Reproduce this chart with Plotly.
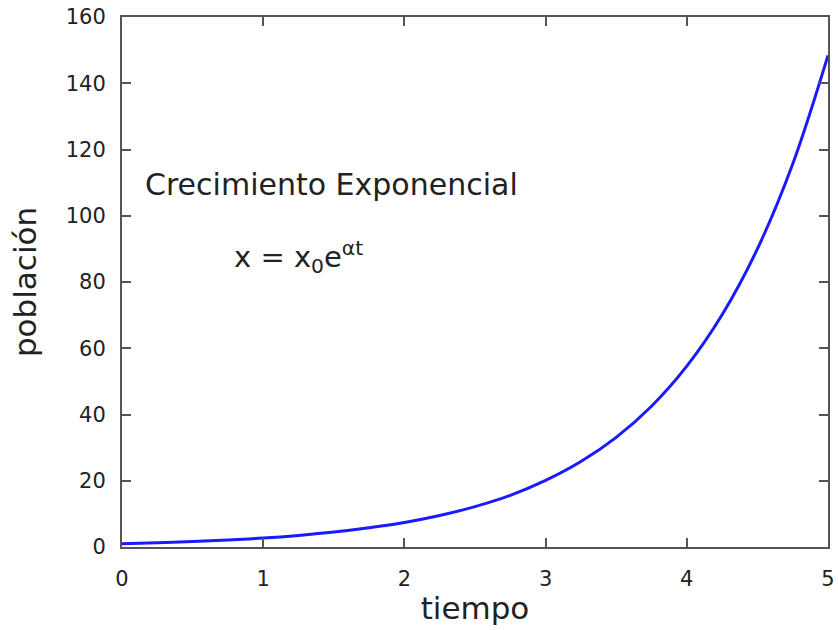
import plotly.graph_objects as go

tiempo = [0.0, 0.25, 0.5, 0.75, 1.0, 1.25, 1.5, 1.75, 2.0, 2.25, 2.5, 2.75, 3.0,
          3.25, 3.5, 3.75, 4.0, 4.25, 4.5, 4.75, 5.0]
poblacion = [1.0, 1.3, 1.65, 2.1, 2.7, 3.5, 4.5, 5.8, 7.4, 9.5, 12.2, 15.6, 20.1,
             25.8, 33.1, 42.5, 54.6, 70.1, 90.0, 115.6, 148.4]
x_ticks = [0, 1, 2, 3, 4, 5]
y_ticks = [0, 20, 40, 60, 80, 100, 120, 140, 160]

FONT = "DejaVu Sans"
TXT = "#222222"
FRAME = "#555555"

fig = go.Figure()
fig.add_trace(go.Scatter(x=tiempo, y=poblacion, mode="lines",
                         line=dict(color="#1a1aff", width=3, shape="spline"),
                         showlegend=False, cliponaxis=True))

axis_common = dict(showgrid=False, zeroline=False, showline=True, linecolor=FRAME,
                   linewidth=2, mirror="ticks", ticks="inside", ticklen=9,
                   tickwidth=1.5, tickcolor=FRAME, automargin=False,
                   tickfont=dict(family=FONT, size=21, color=TXT))

fig.update_xaxes(range=[0, 5], tickvals=x_ticks, ticktext=[str(v) for v in x_ticks],
                 ticklabelstandoff=12,
                 title=dict(text="tiempo", font=dict(family=FONT, size=31, color=TXT),
                            standoff=7), **axis_common)
fig.update_yaxes(range=[0, 160], tickvals=y_ticks, ticktext=[str(v) for v in y_ticks],
                 ticklabelstandoff=10,
                 title=dict(text="población", font=dict(family=FONT, size=31, color=TXT),
                            standoff=20), **axis_common)

fig.add_annotation(x=0.15, y=109.3, xref="x", yref="y", xanchor="left", yanchor="middle",
                   text="Crecimiento Exponencial", showarrow=False,
                   font=dict(family=FONT, size=30, color=TXT))
fig.add_annotation(x=0.78, y=87.5, xref="x", yref="y", xanchor="left", yanchor="middle",
                   text="x = x<sub>0</sub>e<sup>αt</sup>", showarrow=False,
                   font=dict(family=FONT, size=29, color=TXT))

fig.update_layout(width=838, height=630, paper_bgcolor="white", plot_bgcolor="white",
                  margin=dict(l=122, r=10, t=17, b=83))

fig.write_html("out.html", config={"displayModeBar": False},
               post_script="document.body.style.margin='0';")
